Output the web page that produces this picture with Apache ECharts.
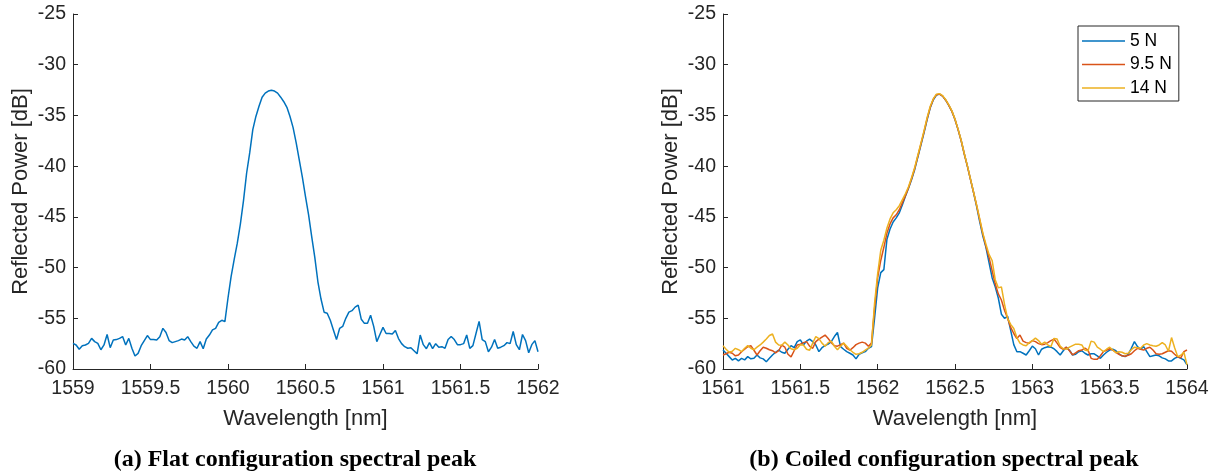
<!DOCTYPE html>
<html><head><meta charset="utf-8">
<script src="https://cdn.jsdelivr.net/npm/echarts@6/dist/echarts.min.js"></script>
<style>html,body{margin:0;padding:0;background:#fff}#c{width:1217px;height:474px}</style>
</head><body><div id="c"></div>
<script>
// ---- Data ----
const wlFlat = [
1559.00,1559.02,1559.04,1559.06,1559.08,1559.10,1559.12,1559.14,1559.16,1559.18,
1559.20,1559.22,1559.24,1559.26,1559.28,1559.30,1559.32,1559.34,1559.36,1559.38,
1559.40,1559.42,1559.44,1559.46,1559.48,1559.50,1559.52,1559.54,1559.56,1559.58,
1559.60,1559.62,1559.64,1559.66,1559.68,1559.70,1559.72,1559.74,1559.76,1559.78,
1559.80,1559.82,1559.84,1559.86,1559.88,1559.90,1559.92,1559.94,1559.96,1559.98,
1560.00,1560.02,1560.04,1560.06,1560.08,1560.10,1560.12,1560.14,1560.16,1560.18,
1560.20,1560.22,1560.24,1560.26,1560.28,1560.30,1560.32,1560.34,1560.36,1560.38,
1560.40,1560.42,1560.44,1560.46,1560.48,1560.50,1560.52,1560.54,1560.56,1560.58,
1560.60,1560.62,1560.64,1560.66,1560.68,1560.70,1560.72,1560.74,1560.76,1560.78,
1560.80,1560.82,1560.84,1560.86,1560.88,1560.90,1560.92,1560.94,1560.96,1560.98,
1561.00,1561.02,1561.04,1561.06,1561.08,1561.10,1561.12,1561.14,1561.16,1561.18,
1561.20,1561.22,1561.24,1561.26,1561.28,1561.30,1561.32,1561.34,1561.36,1561.38,
1561.40,1561.42,1561.44,1561.46,1561.48,1561.50,1561.52,1561.54,1561.56,1561.58,
1561.60,1561.62,1561.64,1561.66,1561.68,1561.70,1561.72,1561.74,1561.76,1561.78,
1561.80,1561.82,1561.84,1561.86,1561.88,1561.90,1561.92,1561.94,1561.96,1561.98,
1562.00];
const powerFlat = [
-57.47,-57.63,-58.05,-57.7,-57.63,-57.47,-56.98,-57.3,-57.47,-58.1,
-57.63,-56.6,-57.9,-57.14,-57.1,-56.98,-56.8,-57.63,-56.98,-57.96,
-58.72,-58.46,-57.7,-57.2,-56.7,-57.1,-57.1,-57.14,-56.81,-55.99,
-56.4,-57.2,-57.4,-57.3,-57.2,-57.05,-57.14,-56.81,-57.3,-57.75,
-57.96,-57.3,-58.0,-57.05,-56.65,-56.15,-55.99,-55.4,-55.2,-55.33,
-53.0,-50.9,-49.2,-47.6,-45.7,-43.4,-40.7,-38.7,-36.4,-35.1,
-34.1,-33.2,-32.8,-32.6,-32.52,-32.6,-32.8,-33.2,-33.65,-34.2,
-35.1,-36.2,-37.7,-39.4,-41.1,-43.0,-44.8,-46.95,-49.0,-51.4,
-53.1,-54.4,-54.5,-55.2,-56.15,-57.1,-56.0,-55.8,-55.0,-54.4,
-54.25,-53.9,-53.7,-55.1,-55.5,-55.5,-54.7,-55.8,-57.3,-56.6,
-55.9,-56.5,-56.5,-56.55,-56.2,-57.0,-57.5,-57.8,-57.95,-57.9,
-58.2,-58.5,-56.65,-57.6,-58.0,-57.4,-58.0,-57.5,-57.85,-57.8,
-57.96,-57.1,-56.8,-57.1,-57.6,-57.6,-57.5,-56.65,-57.96,-57.7,
-56.5,-55.3,-57.1,-57.3,-58.3,-57.85,-57.1,-57.96,-57.85,-57.7,
-57.4,-57.5,-56.3,-57.6,-58.1,-56.6,-57.2,-58.4,-57.6,-57.2,
-58.3];
const wlCoiled = [
1561.00,1561.02,1561.04,1561.06,1561.08,1561.10,1561.12,1561.14,1561.16,1561.18,
1561.20,1561.22,1561.24,1561.26,1561.28,1561.30,1561.32,1561.34,1561.36,1561.38,
1561.40,1561.42,1561.44,1561.46,1561.48,1561.50,1561.52,1561.54,1561.56,1561.58,
1561.60,1561.62,1561.64,1561.66,1561.68,1561.70,1561.72,1561.74,1561.76,1561.78,
1561.80,1561.82,1561.84,1561.86,1561.88,1561.90,1561.92,1561.94,1561.96,1561.98,
1562.00,1562.02,1562.04,1562.06,1562.08,1562.10,1562.12,1562.14,1562.16,1562.18,
1562.20,1562.22,1562.24,1562.26,1562.28,1562.30,1562.32,1562.34,1562.36,1562.38,
1562.40,1562.42,1562.44,1562.46,1562.48,1562.50,1562.52,1562.54,1562.56,1562.58,
1562.60,1562.62,1562.64,1562.66,1562.68,1562.70,1562.72,1562.74,1562.76,1562.78,
1562.80,1562.82,1562.84,1562.86,1562.88,1562.90,1562.92,1562.94,1562.96,1562.98,
1563.00,1563.02,1563.04,1563.06,1563.08,1563.10,1563.12,1563.14,1563.16,1563.18,
1563.20,1563.22,1563.24,1563.26,1563.28,1563.30,1563.32,1563.34,1563.36,1563.38,
1563.40,1563.42,1563.44,1563.46,1563.48,1563.50,1563.52,1563.54,1563.56,1563.58,
1563.60,1563.62,1563.64,1563.66,1563.68,1563.70,1563.72,1563.74,1563.76,1563.78,
1563.80,1563.82,1563.84,1563.86,1563.88,1563.90,1563.92,1563.94,1563.96,1563.98,
1564.00];
const power5N = [
-58.13,-58.45,-58.78,-59.11,-58.95,-59.2,-58.95,-59.1,-58.78,-59.0,
-58.95,-58.62,-58.9,-59.0,-59.28,-58.95,-58.62,-58.35,-58.13,-58.35,
-58.45,-58.05,-57.7,-57.9,-57.3,-57.13,-57.63,-57.25,-57.05,-57.3,
-57.63,-58.29,-57.9,-57.7,-57.55,-57.3,-56.8,-56.4,-57.8,-58.05,
-58.29,-58.45,-58.62,-59.0,-58.55,-58.4,-58.29,-57.96,-57.8,-55.0,
-52.0,-50.5,-50.2,-47.2,-46.2,-45.5,-45.1,-44.6,-43.8,-42.95,
-42.15,-41.3,-40.3,-39.1,-37.9,-36.7,-35.4,-34.25,-33.45,-33.0,
-32.9,-33.1,-33.5,-34.0,-34.6,-35.4,-36.4,-37.5,-38.8,-40.0,
-41.3,-42.6,-44.0,-45.5,-46.9,-48.0,-49.5,-51.0,-51.9,-53.0,
-54.6,-55.0,-54.8,-56.2,-57.6,-58.3,-58.29,-58.45,-58.62,-58.2,
-57.75,-58.0,-58.62,-58.05,-57.9,-57.8,-57.85,-58.0,-58.29,-58.62,
-58.2,-57.85,-58.15,-58.62,-58.55,-58.29,-58.2,-58.45,-58.62,-58.5,
-58.5,-58.7,-58.95,-58.62,-58.35,-58.13,-58.05,-58.2,-58.5,-58.7,
-58.78,-58.55,-57.96,-57.3,-57.8,-58.05,-57.8,-58.29,-58.78,-58.7,
-58.62,-58.7,-58.9,-59.0,-59.2,-59.2,-58.95,-58.8,-58.95,-59.1,
-59.6];
const power9_5N = [
-58.62,-58.5,-58.35,-58.45,-58.7,-58.62,-58.3,-58.05,-57.8,-57.7,
-58.15,-58.62,-58.2,-57.85,-57.95,-58.1,-58.2,-58.4,-58.2,-57.65,
-57.85,-58.55,-58.8,-58.2,-57.63,-57.55,-57.4,-57.3,-57.75,-57.96,
-57.3,-57.05,-56.85,-56.65,-57.0,-57.4,-57.7,-57.75,-57.6,-57.45,
-57.96,-58.15,-57.9,-57.6,-57.45,-57.35,-57.45,-57.75,-57.45,-54.0,
-51.0,-49.3,-48.0,-46.6,-45.7,-45.1,-44.8,-44.3,-43.6,-42.9,
-42.1,-41.2,-40.2,-39.0,-37.8,-36.6,-35.3,-34.2,-33.4,-32.95,
-32.9,-33.1,-33.5,-34.0,-34.6,-35.4,-36.4,-37.5,-38.8,-40.0,
-41.3,-42.6,-43.9,-45.3,-46.7,-47.9,-49.0,-50.3,-51.6,-52.6,
-53.2,-54.2,-55.0,-55.9,-56.5,-57.0,-56.65,-57.25,-57.4,-57.45,
-57.2,-57.3,-57.5,-57.6,-57.55,-57.4,-57.2,-57.05,-57.45,-57.9,
-58.05,-57.85,-58.2,-58.6,-58.4,-58.2,-58.13,-57.95,-58.13,-58.95,
-59.05,-59.05,-58.7,-58.29,-58.15,-58.0,-58.13,-58.35,-58.55,-58.7,
-58.75,-58.65,-58.5,-58.2,-57.96,-58.05,-58.13,-57.96,-57.85,-58.13,
-58.5,-58.55,-58.5,-58.35,-58.2,-58.25,-58.55,-58.8,-58.9,-58.29,
-58.13];
const power14N = [
-57.7,-58.05,-58.35,-58.25,-57.96,-58.1,-58.29,-57.95,-57.7,-57.95,
-58.1,-57.85,-57.63,-57.35,-57.05,-56.7,-56.55,-57.35,-57.63,-57.65,
-57.35,-57.63,-58.0,-58.1,-57.95,-57.6,-57.63,-58.05,-58.15,-57.45,
-56.8,-57.0,-57.45,-57.75,-57.4,-57.25,-57.75,-58.1,-57.75,-57.45,
-57.75,-58.1,-58.35,-58.55,-58.5,-58.35,-58.15,-57.95,-57.63,-53.5,
-50.6,-48.3,-47.3,-46.1,-45.2,-44.6,-44.3,-43.9,-43.3,-42.7,
-42.0,-41.1,-40.1,-38.9,-37.7,-36.5,-35.2,-34.1,-33.35,-32.9,
-32.85,-33.05,-33.45,-33.95,-34.55,-35.35,-36.35,-37.45,-38.75,-39.95,
-41.25,-42.55,-43.85,-45.2,-46.6,-47.7,-48.7,-49.3,-51.2,-52.0,
-51.9,-53.6,-55.0,-55.6,-56.0,-56.9,-57.45,-57.63,-57.7,-57.4,
-57.2,-56.95,-57.2,-57.55,-57.35,-57.63,-57.8,-56.98,-57.05,-57.75,
-58.0,-58.05,-57.85,-57.7,-57.55,-57.55,-57.63,-58.13,-58.2,-57.25,
-57.35,-57.85,-58.05,-58.29,-58.05,-57.85,-58.13,-58.4,-58.3,-58.35,
-58.5,-58.45,-58.1,-57.85,-57.9,-57.95,-57.63,-57.5,-57.63,-57.7,
-57.75,-57.63,-57.4,-57.63,-58.25,-56.9,-57.9,-58.78,-58.65,-58.35,
-59.6];
const legendNames = ['5 N', '9.5 N', '14 N'];
const lineColors = ['#0072BD', '#D95319', '#EDB120'];
const xRangeFlat = [1559, 1562];
const xRangeCoiled = [1561, 1564];
const yRange = [-60, -25];
const xTickStep = 0.5;
const yTickStep = 5;
const captions = ['(a) Flat configuration spectral peak', '(b) Coiled configuration spectral peak'];
const xTitle = 'Wavelength [nm]';
const yTitle = 'Reflected Power [dB]';

// ---- Chart ----
const axisColor = '#262626';
const FONT = '"Liberation Sans", Arial, Helvetica, sans-serif';
const pairs = (xs, ys) => xs.map((x, i) => [x, ys[i]]);
const fmt = v => String(Math.round(v * 10) / 10);

function xAxisOf(gi, range) {
  return {
    type: 'value', gridIndex: gi, min: range[0], max: range[1], interval: xTickStep,
    name: xTitle, nameLocation: 'middle', nameGap: 39,
    nameTextStyle: { fontSize: 22, color: axisColor, fontFamily: FONT },
    axisLine: { show: true, onZero: false, lineStyle: { color: axisColor, width: 1 } },
    axisTick: { show: true, inside: true, length: 5, lineStyle: { color: axisColor, width: 1 } },
    axisLabel: { color: axisColor, fontSize: 19.5, fontFamily: FONT, margin: 10, formatter: fmt },
    splitLine: { show: false }
  };
}
function yAxisOf(gi) {
  return {
    type: 'value', gridIndex: gi, min: yRange[0], max: yRange[1], interval: yTickStep,
    name: yTitle, nameLocation: 'middle', nameGap: 41,
    nameTextStyle: { fontSize: 22, color: axisColor, fontFamily: FONT },
    axisLine: { show: true, onZero: false, lineStyle: { color: axisColor, width: 1 } },
    axisTick: { show: true, inside: true, length: 5, lineStyle: { color: axisColor, width: 1 } },
    axisLabel: { color: axisColor, fontSize: 19.5, fontFamily: FONT, margin: 7, formatter: fmt },
    splitLine: { show: false }
  };
}
function lineSeries(name, xi, xs, ys, color) {
  return {
    type: 'line', name: name, xAxisIndex: xi, yAxisIndex: xi,
    data: pairs(xs, ys), symbol: 'none', showSymbol: false,
    lineStyle: { color: color, width: 1.5 }, itemStyle: { color: color },
    animation: false, silent: true
  };
}

const chart = echarts.init(document.getElementById('c'), null, { renderer: 'canvas' });
chart.setOption({
  backgroundColor: '#ffffff',
  animation: false,
  grid: [
    { left: 73, top: 14, width: 465, height: 355 },
    { left: 723, top: 14, width: 464, height: 355 }
  ],
  xAxis: [xAxisOf(0, xRangeFlat), xAxisOf(1, xRangeCoiled)],
  yAxis: [yAxisOf(0), yAxisOf(1)],
  legend: {
    data: legendNames.map((n, i) => ({ name: n, icon: 'rect', itemStyle: { color: lineColors[i] } })),
    orient: 'vertical', left: 1078, top: 26,
    itemWidth: 43, itemHeight: 1.6, itemGap: 5.5, padding: [6, 7, 4, 4],
    borderColor: axisColor, borderWidth: 1, backgroundColor: '#fff', borderRadius: 0,
    textStyle: { fontSize: 17.5, color: '#000', fontFamily: FONT },
    selectedMode: false
  },
  series: [
    lineSeries('flat', 0, wlFlat, powerFlat, lineColors[0]),
    lineSeries(legendNames[0], 1, wlCoiled, power5N, lineColors[0]),
    lineSeries(legendNames[1], 1, wlCoiled, power9_5N, lineColors[1]),
    lineSeries(legendNames[2], 1, wlCoiled, power14N, lineColors[2])
  ],
  graphic: [
    { type: 'text', x: 295, y: 460, style: { text: captions[0], font: 'bold 24px "Liberation Serif", "Times New Roman", serif', fill: '#000', align: 'center', verticalAlign: 'middle' } },
    { type: 'text', x: 944, y: 460, style: { text: captions[1], font: 'bold 24px "Liberation Serif", "Times New Roman", serif', fill: '#000', align: 'center', verticalAlign: 'middle' } }
  ]
});
</script>
</body></html>
